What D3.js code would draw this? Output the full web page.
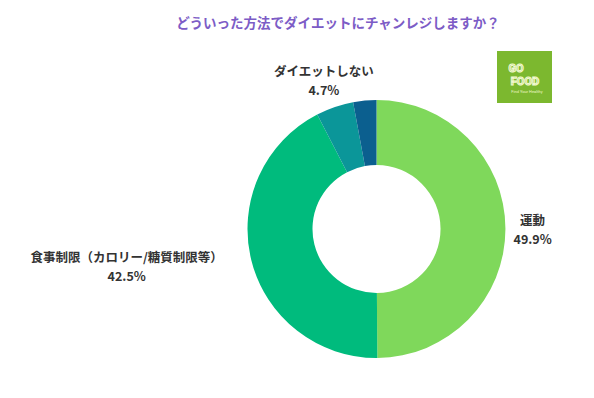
<!DOCTYPE html>
<html>
<head>
<meta charset="utf-8">
<script src="https://cdn.jsdelivr.net/npm/d3@7"></script>
<style>
  body { margin: 0; background: #fff; }
  svg { font-family: "Noto Sans CJK JP", "Noto Sans", sans-serif; }
</style>
</head>
<body>
<div id="chart"></div>
<script>
const title = "どういった方法でダイエットにチャンレジしますか？"
const labels = ["運動", "食事制限（カロリー/糖質制限等）", "ダイエットしない", "その他"]
const values = [49.9, 42.5, 4.7, 2.9]
const showLabel = [true, true, true, false]
const colors = ["#7fd85b", "#00bb7d", "#0b9699", "#0b5f8f"]

const W = 594, H = 398
const cx = 376.5, cy = 229, outerR = 129, innerR = 64

const svg = d3.select("#chart").append("svg")
  .attr("width", W).attr("height", H)

svg.append("text")
  .attr("x", 338).attr("y", 28)
  .attr("text-anchor", "middle")
  .attr("fill", "#7c5cc6")
  .attr("font-size", 13.5)
  .attr("font-weight", 700)
  .text(title)

const pie = d3.pie().sort(null).value(d => d.value)
const arc = d3.arc().innerRadius(innerR).outerRadius(outerR)
const data = pie(values.map((v, i) => ({ value: v, label: labels[i], i })))

const g = svg.append("g").attr("transform", `translate(${cx},${cy})`)

g.selectAll("path")
  .data(data)
  .enter().append("path")
  .attr("d", arc)
  .attr("fill", d => colors[d.data.i])

// labels
const labelR = 150
data.filter(d => showLabel[d.data.i]).forEach(d => {
  const a = (d.startAngle + d.endAngle) / 2
  const px = Math.sin(a) * labelR, py = -Math.cos(a) * labelR
  const block = g.append("g")
  const t1 = block.append("text").attr("text-anchor", "middle")
    .attr("font-size", 12.5).attr("font-weight", 700).attr("fill", "#333")
    .text(d.data.label)
  const t2 = block.append("text").attr("text-anchor", "middle")
    .attr("font-size", 12.5).attr("font-weight", 700).attr("fill", "#333")
    .attr("dy", 19)
    .text(d.data.value.toFixed(1) + "%")
  const w = Math.max(t1.node().getComputedTextLength(), t2.node().getComputedTextLength())
  let bx, by
  if (Math.abs(Math.sin(a)) < 0.5) {
    bx = px - 4; by = py - 11
  } else if (Math.sin(a) > 0) {
    bx = px - 13 + w / 2; by = py - 4
  } else {
    bx = px - 8 - w / 2; by = py - 3
  }
  block.attr("transform", `translate(${bx},${by})`)
})

// logo
const logo = svg.append("g").attr("transform", "translate(497,51)")
  .style("font-family", "Roboto, sans-serif")
logo.append("rect").attr("width", 55).attr("height", 52).attr("fill", "#7cb82f")
logo.append("text").attr("x", 19).attr("y", 21).attr("text-anchor", "middle")
  .attr("font-size", 11).attr("font-weight", 700).attr("fill", "#7cb82f")
  .attr("stroke", "#f2f9d0").attr("stroke-width", 1.1).text("GO")
logo.append("text").attr("x", 28).attr("y", 34).attr("text-anchor", "middle")
  .attr("font-size", 11).attr("font-weight", 700).attr("fill", "#7cb82f")
  .attr("stroke", "#f2f9d0").attr("stroke-width", 1.1).text("FOOD")
logo.append("text").attr("x", 30).attr("y", 42).attr("text-anchor", "middle")
  .attr("font-size", 4).attr("fill", "#eef7c8").text("Find Your Healthy")
</script>
</body>
</html>
